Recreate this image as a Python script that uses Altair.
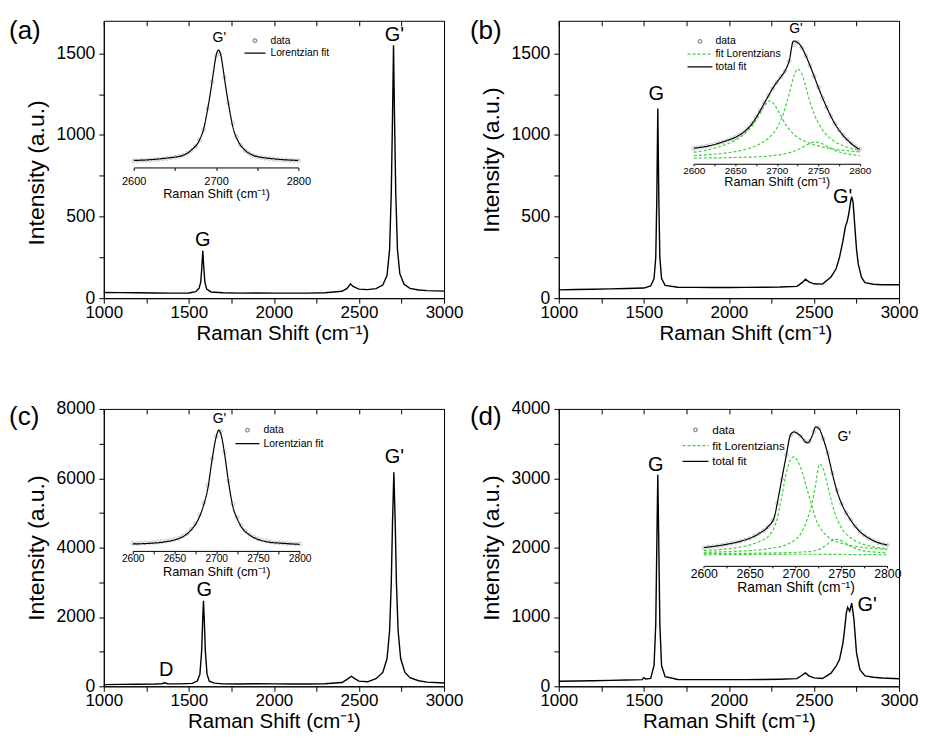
import altair as alt
import pandas as pd

FONT = "Liberation Sans"
XT = "Raman Shift (cm\u207b\u00b9)"
YT = "Intensity (a.u.)"
GRAY = "#8a8a8a"
GREEN = "#3fd23f"
W, H = 341, 278

# ---------------- main spectra ----------------
a_main_x = [1000, 1100, 1200, 1300, 1400, 1500, 1540, 1560, 1570, 1577, 1582, 1587, 1594, 1605, 1630,
            1700, 1800, 1900, 2000, 2100, 2200, 2300, 2400, 2430, 2450, 2465, 2500, 2550, 2600,
            2640, 2665, 2680, 2690, 2697, 2703, 2709, 2716, 2726, 2740, 2765, 2800, 2850, 2900, 3000]
a_main_y = [35, 34, 33, 32, 31, 32, 40, 60, 100, 200, 290, 200, 100, 55, 38,
            33, 31, 32, 31, 31, 31, 33, 42, 60, 88, 72, 55, 52, 58,
            80, 140, 300, 650, 1100, 1550, 1100, 650, 300, 150, 85, 60, 50, 46, 43]

b_main_x = [1000, 1100, 1200, 1300, 1400, 1500, 1540, 1560, 1570, 1576, 1582, 1588, 1594, 1604, 1625,
            1700, 1800, 1900, 2000, 2100, 2200, 2300, 2400, 2430, 2450, 2470, 2500, 2550, 2600,
            2630, 2650, 2670, 2685, 2695, 2705, 2715, 2722, 2730, 2740, 2750, 2760, 2780,
            2800, 2850, 2900, 3000]
b_main_y = [51, 53, 55, 57, 59, 62, 75, 120, 250, 600, 1163, 600, 250, 120, 78,
            67, 66, 65, 65, 66, 67, 68, 72, 95, 116, 100, 88, 86, 130,
            180, 250, 350, 440, 470, 520, 590, 622, 585, 440, 300, 210, 125,
            95, 85, 82, 82]

c_main_x = [1000, 1100, 1200, 1300, 1340, 1358, 1375, 1450, 1520, 1550, 1565, 1575, 1582, 1586, 1590,
            1597, 1607, 1620, 1650, 1700, 1800, 1900, 2000, 2100, 2200, 2300, 2400, 2430, 2455,
            2475, 2500, 2550, 2600, 2640, 2665, 2680, 2690, 2697, 2705, 2713, 2720, 2730, 2745,
            2770, 2800, 2850, 2900, 3000]
c_main_y = [50, 55, 60, 65, 75, 100, 75, 70, 85, 150, 350, 1000, 2000, 2470, 2000,
            1000, 350, 150, 90, 70, 68, 72, 70, 68, 68, 72, 110, 200, 290,
            220, 150, 130, 220, 400, 800, 1600, 3000, 4700, 6170, 4700, 3000, 1600, 800,
            400, 250, 160, 120, 95]

d_main_x = [1000, 1100, 1200, 1300, 1400, 1490, 1500, 1510, 1540, 1560, 1570, 1576, 1582, 1588, 1594,
            1604, 1625, 1700, 1800, 1900, 2000, 2100, 2200, 2300, 2400, 2430, 2450, 2470, 2500,
            2550, 2600, 2630, 2650, 2670, 2680, 2690, 2698, 2710, 2722, 2735, 2750, 2770, 2800,
            2850, 2900, 3000]
d_main_y = [72, 76, 80, 85, 90, 96, 125, 105, 115, 300, 900, 2000, 3050, 2000, 900,
            300, 140, 98, 96, 96, 96, 97, 99, 102, 110, 160, 192, 150, 122,
            112, 190, 290, 385, 620, 817, 1058, 1140, 1082, 1200, 962, 481, 240, 150,
            130, 120, 110]

# ---------------- insets: measured data points ----------------
inset_data_x = [2600, 2605, 2610, 2615, 2620, 2625, 2630, 2635, 2640, 2645, 2650, 2655, 2660, 2665,
                2670, 2675, 2680, 2685, 2690, 2695, 2700, 2705, 2710, 2715, 2720, 2725, 2730, 2735,
                2740, 2745, 2750, 2755, 2760, 2765, 2770, 2775, 2780, 2785, 2790, 2795, 2800]
a_data_y = [45, 47, 50, 53, 56, 60, 65, 71, 78, 86, 95, 106, 122, 148, 188, 245, 325, 470, 760, 1120,
            1470, 1500, 1180, 830, 555, 370, 255, 185, 145, 118, 100, 88, 80, 73, 67, 62, 58, 54, 51, 48, 46]
b_data_y = [104, 108, 111, 115, 119, 124, 129, 135, 141, 149, 157, 168, 180, 199, 222, 252, 285, 322, 356,
            390, 418, 447, 472, 520, 598, 610, 583, 545, 497, 447, 396, 345, 300, 258, 222, 192, 166,
            147, 128, 112, 100]
c_data_y = [170, 180, 190, 200, 212, 228, 248, 272, 300, 340, 390, 460, 560, 700, 920, 1230, 1680, 2330,
            3250, 4650, 5820, 6080, 5000, 3450, 2250, 1560, 1120, 840, 650, 520, 420, 350, 300, 260,
            230, 205, 190, 175, 165, 155, 148]
d_data_y = [148, 155, 160, 166, 172, 180, 187, 196, 205, 217, 230, 248, 270, 297, 330, 385, 530, 740, 950,
            1120, 1145, 1112, 1068, 1065, 1150, 1185, 1090, 965, 790, 645, 528, 450, 390, 335, 290,
            255, 230, 210, 193, 182, 172]

# ---------------- insets: fits ----------------
a_fit_x = [2600, 2620, 2640, 2650, 2660, 2670, 2680, 2685, 2690, 2694, 2697, 2700, 2703, 2706, 2709,
           2712, 2716, 2721, 2726, 2735, 2745, 2755, 2765, 2780, 2800]
a_fit_y = [50, 60, 82, 96, 120, 190, 330, 480, 760, 1030, 1260, 1470, 1550, 1470, 1260,
           1030, 760, 480, 330, 190, 120, 92, 78, 62, 50]

c_fit_x = [2600, 2620, 2640, 2650, 2660, 2670, 2680, 2685, 2690, 2695, 2700, 2703, 2706, 2710, 2715,
           2720, 2725, 2730, 2740, 2750, 2760, 2780, 2800]
c_fit_y = [150, 180, 270, 360, 534, 887, 1587, 2202, 3076, 4570, 5800, 6150, 5887, 4918, 3340,
           2113, 1497, 1060, 624, 392, 270, 180, 130]

b_fit_x = [2600, 2620, 2640, 2650, 2660, 2670, 2680, 2685, 2690, 2695, 2700, 2705, 2710, 2715, 2720,
           2725, 2730, 2735, 2740, 2745, 2750, 2760, 2770, 2780, 2790, 2800]
b_total = [105, 118, 142, 157, 181, 221, 284, 320, 355, 390, 419, 445, 474, 522, 615,
           608, 585, 545, 498, 447, 395, 300, 221, 166, 126, 99]
b_comp1 = [86, 100, 125, 143, 170, 210, 272, 305, 330, 322, 295, 258, 222, 195, 172,
           156, 145, 136, 128, 121, 116, 107, 100, 95, 91, 88]
b_comp2 = [70, 75, 83, 89, 97, 109, 126, 138, 153, 173, 200, 240, 295, 365, 440,
           482, 460, 395, 325, 268, 225, 168, 136, 117, 104, 95]
b_comp3 = [58, 59, 60, 61, 62, 63, 65, 66, 68, 70, 72, 75, 79, 84, 90,
           98, 107, 118, 128, 134, 133, 115, 95, 82, 75, 70]

d_fit_x = [2600, 2620, 2640, 2650, 2660, 2670, 2677, 2680, 2685, 2690, 2694, 2698, 2705, 2713, 2718,
           2722, 2726, 2730, 2735, 2740, 2745, 2750, 2760, 2770, 2780, 2790, 2800]
d_total = [150, 172, 205, 230, 270, 330, 416, 530, 740, 950, 1110, 1147, 1115, 1052, 1110,
           1190, 1170, 1090, 960, 790, 640, 530, 388, 288, 230, 193, 173]
d_comp1 = [125, 135, 155, 172, 200, 245, 330, 400, 590, 800, 900, 932, 850, 640, 500,
           400, 330, 285, 245, 220, 200, 188, 168, 155, 146, 140, 135]
d_comp2 = [110, 114, 120, 125, 131, 140, 148, 152, 162, 175, 190, 210, 262, 400, 530,
           700, 869, 830, 680, 520, 400, 320, 235, 190, 165, 150, 140]
d_comp3 = [100, 100, 101, 101, 102, 103, 104, 104, 105, 106, 107, 108, 111, 115, 119,
           125, 135, 152, 182, 210, 221, 210, 160, 130, 116, 109, 105]
d_comp4 = [88, 89, 90, 90, 91, 91, 92, 92, 92, 93, 93, 93, 93, 93, 93,
           93, 92, 92, 92, 91, 91, 91, 90, 90, 89, 89, 88]

# ---------------- labels ----------------
a_peaks = {"label": ["G'", "G"], "x": [2708, 1581], "y": [1610, 355]}
b_peaks = {"label": ["G", "G'"], "x": [1573, 2668], "y": [1253, 620]}
c_peaks = {"label": ["D", "G", "G'"], "x": [1367, 1591, 2708], "y": [480, 2783, 6619]}
d_peaks = {"label": ["G", "G'"], "x": [1570, 2813], "y": [3190, 1175]}

a_letter = {"label": ["(a)"], "x": [443], "y": [1639]}
b_letter = {"label": ["(b)"], "x": [478], "y": [1639]}
c_letter = {"label": ["(c)"], "x": [443], "y": [7770]}
d_letter = {"label": ["(d)"], "x": [478], "y": [3885]}

main_xticks = [1000, 1250, 1500, 1750, 2000, 2250, 2500, 2750, 3000]
inset_ticks_50 = [2600, 2650, 2700, 2750, 2800]
inset_ticks_25 = [2600, 2625, 2650, 2675, 2700, 2725, 2750, 2775, 2800]

LINE_SHAPE = "M-1,0L1,0"


def circle_path(r):
    return f"M{-r},0A{r},{r} 0 1,0 {r},0A{r},{r} 0 1,0 {-r},0Z"


def main_layers(mx, my, ymax, yticks, ylab, peaks, letter, xtitle_x, ytitle_y):
    df = pd.DataFrame({"x": mx, "y": my})
    xax = dict(values=main_xticks, format="d",
               labelExpr="datum.value % 500 === 0 ? datum.label : ''",
               title=XT, tickSize=5, labelPadding=1, titlePadding=3,
               labelFontSize=17, titleFontSize=20.5,
               labelFlush=False, labelOverlap=False)
    if xtitle_x is not None:
        xax["titleX"] = xtitle_x
    yax = dict(values=yticks, format="d",
               labelExpr=f"datum.value % {ylab} === 0 ? datum.label : ''",
               title=YT, tickSize=5, labelPadding=4, titlePadding=7,
               labelFontSize=17.5, titleFontSize=23,
               labelFlush=False, labelOverlap=False)
    if ytitle_y is not None:
        yax["titleY"] = ytitle_y
    X = alt.X("x:Q", scale=alt.Scale(domain=[1000, 3000], nice=False, zero=False), axis=alt.Axis(**xax))
    Y = alt.Y("y:Q", scale=alt.Scale(domain=[0, ymax], nice=False, zero=False), axis=alt.Axis(**yax))
    line = alt.Chart(df).mark_line(color="black", strokeWidth=1.4).encode(x=X, y=Y)
    txt = alt.Chart(pd.DataFrame(peaks)).mark_text(
        font=FONT, fontSize=20, color="black", baseline="middle").encode(x=X, y=Y, text="label:N")
    let = alt.Chart(pd.DataFrame(letter)).mark_text(
        font=FONT, fontSize=26, color="black", baseline="middle", align="left").encode(
        x=X, y=Y, text="label:N")
    main = alt.layer(line, txt, let)

    Xm = alt.X("x:Q", scale=alt.Scale(domain=[1000, 3000], nice=False, zero=False),
               axis=alt.Axis(orient="top", values=main_xticks, labels=False, domain=False,
                             tickSize=5, offset=-5, title=None))
    Ym = alt.Y("y:Q", scale=alt.Scale(domain=[0, ymax], nice=False, zero=False), axis=None)
    mirror = alt.Chart(df).mark_line(opacity=0).encode(x=Xm, y=Ym)
    return main, mirror


def inset_layers(cfg):
    Xi = alt.X("x:Q", scale=alt.Scale(domain=[2600, 2800], range=cfg["xr"], nice=False, zero=False),
               axis=alt.Axis(orient="bottom", offset=cfg["off"], values=cfg["ticks"], format="d",
                             labelExpr=f"datum.value % {cfg['lab']} === 0 ? datum.label : ''",
                             tickSize=cfg["ts"], labelPadding=cfg["lp"], labelFontSize=cfg["lf"],
                             title=XT, titleFontSize=cfg["tf"], titlePadding=cfg["tp"],
                             labelFlush=False, labelOverlap=False))
    Yi = alt.Y("y:Q", scale=alt.Scale(domain=cfg["yd"], range=cfg["yr"], nice=False, zero=False),
               axis=None)
    names = cfg["names"]
    leg = alt.Legend(orient="none", legendX=cfg["legx"], legendY=cfg["legy"], title=None,
                     labelFont=FONT, labelFontSize=cfg["legfont"], labelColor="black",
                     symbolSize=cfg["symsize"], symbolStrokeWidth=1.2, clipHeight=cfg["clip"],
                     rowPadding=cfg["rowpad"], labelOffset=cfg["laboff"], padding=0,
                     symbolFillColor="transparent", symbolOpacity=1)
    color = alt.Color("series:N", scale=alt.Scale(domain=names, range=cfg["colors"]), legend=leg)
    shape = alt.Shape("series:N", scale=alt.Scale(domain=names, range=[circle_path(cfg["r"])] + [LINE_SHAPE] * (len(names) - 1)), legend=leg)
    dash = alt.StrokeDash("series:N", scale=alt.Scale(domain=names, range=cfg["dashes"]), legend=leg)

    layers = []
    if cfg.get("comps"):
        rows = []
        for i, comp in enumerate(cfg["comps"]):
            for xv, yv in zip(cfg["fit_x"], comp):
                rows.append({"x": xv, "y": yv, "series": names[1], "comp": f"c{i}"})
        comp_df = pd.DataFrame(rows)
        layers.append(alt.Chart(comp_df).mark_line(strokeWidth=1.2, interpolate="monotone").encode(
            x=Xi, y=Yi, color=color, strokeDash=dash, detail="comp:N"))
    data_df = pd.DataFrame({"x": inset_data_x, "y": cfg["data_y"], "series": names[0]})
    layers.append(alt.Chart(data_df).mark_point(filled=False, size=cfg["symsize"], strokeWidth=0.8).encode(
        x=Xi, y=Yi, color=color, shape=shape))
    fit_df = pd.DataFrame({"x": cfg["fit_x"], "y": cfg["fit_y"], "series": names[-1], "comp": "t"})
    layers.append(alt.Chart(fit_df).mark_line(strokeWidth=1.2, interpolate="monotone").encode(
        x=Xi, y=Yi, color=color, strokeDash=dash, detail="comp:N"))
    gp_df = pd.DataFrame({"label": ["G'"], "x": [cfg["gp"][0]], "y": [cfg["gp"][1]]})
    layers.append(alt.Chart(gp_df).mark_text(font=FONT, fontSize=14, color="black", baseline="middle").encode(
        x=Xi, y=Yi, text="label:N"))
    return alt.layer(*layers)


def panel(mx, my, ymax, yticks, ylab, peaks, letter, cfg, xtitle_x=None, ytitle_y=None):
    main, mirror = main_layers(mx, my, ymax, yticks, ylab, peaks, letter, xtitle_x, ytitle_y)
    inset = inset_layers(cfg)
    return alt.layer(main, mirror, inset).resolve_scale(x="independent", y="independent").properties(
        width=W, height=H)


cfg_a = dict(xr=[30, 195], off=-131, ticks=inset_ticks_50, lab=100, ts=3, lp=5, lf=11, tf=12.7, tp=1,
             yd=[-45, 1676], yr=[147, 20], names=["data", "Lorentzian fit"], colors=[GRAY, "black"],
             dashes=[[1, 0], [1, 0]], symsize=441, r=0.171, legx=140, legy=14.5, legfont=10.3,
             clip=11, rowpad=1.5, laboff=4, gp=(2704, 1713),
             data_y=a_data_y, fit_x=a_fit_x, fit_y=a_fit_y)
cfg_b = dict(xr=[135.3, 301.7], off=-134.7, ticks=inset_ticks_25, lab=50, ts=2, lp=0, lf=10, tf=12.6, tp=0,
             yd=[31.2, 664], yr=[143.3, 10], names=["data", "fit Lorentzians", "total fit"],
             colors=[GRAY, GREEN, "black"], dashes=[[1, 0], [3, 2], [1, 0]], symsize=625, r=0.144,
             legx=128, legy=15.2, legfont=10.5, clip=11, rowpad=1.8, laboff=2, gp=(2723, 672),
             data_y=b_data_y, fit_x=b_fit_x, fit_y=b_total, comps=[b_comp1, b_comp2, b_comp3])
cfg_c = dict(xr=[29, 196.3], off=-135.7, ticks=inset_ticks_25, lab=50, ts=3, lp=0, lf=10.2, tf=12.8, tp=1.6,
             yd=[-218, 6745], yr=[142.3, 10], names=["data", "Lorentzian fit"], colors=[GRAY, "black"],
             dashes=[[1, 0], [1, 0]], symsize=576, r=0.15, legx=131, legy=15.8, legfont=10.5,
             clip=11, rowpad=2.4, laboff=3, gp=(2704, 6760),
             data_y=c_data_y, fit_x=c_fit_x, fit_y=c_fit_y)
cfg_d = dict(xr=[145.3, 329.3], off=-120.7, ticks=inset_ticks_25, lab=50, ts=2, lp=0, lf=12.3, tf=13.9, tp=0.6,
             yd=[-7.3, 1258.8], yr=[157.3, 10], names=["data", "fit Lorentzians", "total fit"],
             colors=[GRAY, GREEN, "black"], dashes=[[1, 0], [3, 2], [1, 0]], symsize=676, r=0.138,
             legx=123, legy=15, legfont=11.7, clip=12, rowpad=2.8, laboff=2.7, gp=(2753, 1104),
             data_y=d_data_y, fit_x=d_fit_x, fit_y=d_total, comps=[d_comp1, d_comp2, d_comp3, d_comp4])

pa = panel(a_main_x, a_main_y, 1700, list(range(0, 1501, 250)), 500, a_peaks, a_letter, cfg_a,
           xtitle_x=179, ytitle_y=152)
pb = panel(b_main_x, b_main_y, 1700, list(range(0, 1501, 250)), 500, b_peaks, b_letter, cfg_b,
           xtitle_x=187)
pc = panel(c_main_x, c_main_y, 8000, list(range(0, 8001, 1000)), 2000, c_peaks, c_letter, cfg_c)
pd_ = panel(d_main_x, d_main_y, 4000, list(range(0, 4001, 500)), 1000, d_peaks, d_letter, cfg_d)

RES = dict(color="independent", shape="independent", strokeDash="independent")

chart = alt.concat(pa, pb, pc, pd_, columns=2, spacing={"row": 111, "column": 115}, bounds="flush").resolve_scale(**RES).resolve_legend(**RES).properties(
    padding={"left": 0, "top": 8, "right": 0, "bottom": 0}, background="white"
).configure_view(stroke="black", strokeWidth=1).configure_axis(
    domainColor="black", tickColor="black", labelColor="black", titleColor="black",
    labelFont=FONT, titleFont=FONT, titleFontWeight="normal", grid=False, domainWidth=1, tickWidth=1
)

chart.save("out.html", embed_options={"renderer": "svg", "actions": False})
